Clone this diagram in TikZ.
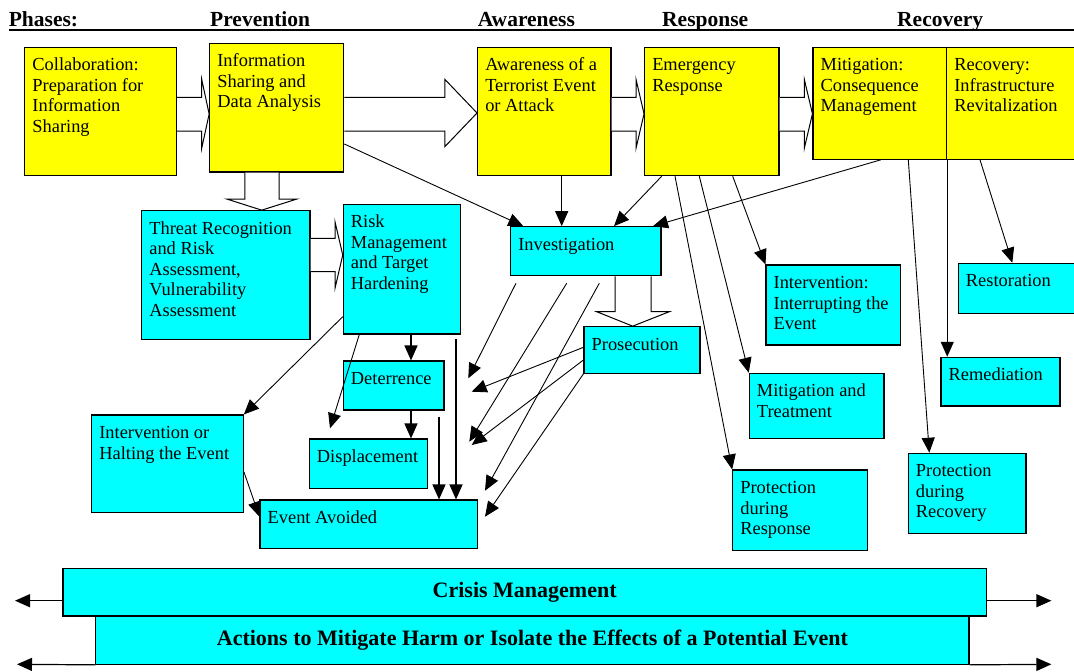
\documentclass[tikz,border=0pt]{standalone}
\usepackage{fontspec}
\setmainfont{Liberation Serif}
\usetikzlibrary{arrows.meta,fit,calc}
\definecolor{ylw}{RGB}{255,255,0}
\definecolor{cyn}{RGB}{0,255,255}
\newcommand\btxt[2]{\node[txt] (#1-t) at ([shift={(8,24)}]#1.north west) {\parbox[t]{220pt}{\raggedright #2}};}
\begin{document}
\begin{tikzpicture}[x=1pt,y=-1pt,
  box/.style={draw=black, line width=1.1pt, inner sep=0pt},
  ybox/.style={box, fill=ylw},
  cbox/.style={box, fill=cyn},
  txt/.style={inner sep=0pt, anchor=base west, font=\fontsize{18.4}{20.6}\selectfont},
  conn/.style={line width=0.9pt, -{Triangle[length=15pt,width=13pt]}},
  vconn/.style={conn, line width=1.3pt},
  hollow/.style={draw=black, fill=white, line width=1pt},
  hdr/.style={inner sep=0pt, anchor=base west, font=\fontsize{21.5}{24}\selectfont\bfseries},
  bartxt/.style={inner sep=0pt, font=\fontsize{22}{24}\selectfont\bfseries},
]
\useasboundingbox (0,0) rectangle (1074,672);

% header
\node[hdr] (h0) at (8.6,26) {Phases:};
\node[hdr] (h1) at (210,26) {Prevention};
\node[hdr] (h2) at (477.6,26) {Awareness};
\node[hdr] (h3) at (662,26) {Response};
\node[hdr] (h4) at (897,26) {Recovery};
\draw[line width=1.4pt] (8.6,29.8) -- (1074,29.8);

% yellow boxes
\node[ybox, fit={(24.8,47.3) (176.5,175.7)}] (collab) {};
\node[ybox, fit={(209.7,43.3) (343.8,172)}] (info) {};
\node[ybox, fit={(477.6,47.3) (611,175.7)}] (aware) {};
\node[ybox, fit={(644.6,47.3) (779,175.7)}] (emerg) {};
\node[ybox, fit={(813,47.3) (946.7,159.3)}] (mitig) {};
\node[ybox, fit={(946.7,47.3) (1080,159.3)}] (recov) {};

\btxt{collab}{Collaboration:\\Preparation for\\Information\\Sharing}
\btxt{info}{Information\\Sharing and\\Data Analysis}
\btxt{aware}{Awareness of a\\Terrorist Event\\or Attack}
\btxt{emerg}{Emergency\\Response}
\btxt{mitig}{Mitigation:\\Consequence\\Management}
\btxt{recov}{Recovery:\\Infrastructure\\Revitalization}

% cyan boxes
\node[cbox, fit={(141.7,210.7) (310,339.3)}] (threat) {};
\node[cbox, fit={(343.3,204.3) (460.7,334)}] (risk) {};
\node[cbox, fit={(510.7,226.7) (661,275.7)}] (invest) {};
\node[cbox, fit={(584,326.7) (700,373.3)}] (prosec) {};
\node[cbox, fit={(766,265) (900.7,345)}] (interv1) {};
\node[cbox, fit={(749.3,373.3) (884,438.3)}] (mitT) {};
\node[cbox, fit={(732.7,470) (867.3,550.7)}] (protResp) {};
\node[cbox, fit={(958.3,263.3) (1078,313.3)}] (restor) {};
\node[cbox, fit={(941,357.3) (1060,406)}] (remed) {};
\node[cbox, fit={(908.3,453.3) (1026,533.3)}] (protRec) {};
\node[cbox, fit={(343.3,361) (444,410)}] (deter) {};
\node[cbox, fit={(309.3,439) (427.3,488.3)}] (displ) {};
\node[cbox, fit={(91.7,415) (243.3,512.7)}] (interv2) {};
\node[cbox, fit={(260,500) (477.3,548.3)}] (event) {};

\btxt{threat}{Threat Recognition\\and Risk\\Assessment,\\Vulnerability\\Assessment}
\btxt{risk}{Risk\\Management\\and Target\\Hardening}
\btxt{invest}{Investigation}
\btxt{prosec}{Prosecution}
\btxt{interv1}{Intervention:\\Interrupting the\\Event}
\btxt{mitT}{Mitigation and\\Treatment}
\btxt{protResp}{Protection\\during\\Response}
\btxt{restor}{Restoration}
\btxt{remed}{Remediation}
\btxt{protRec}{Protection\\during\\Recovery}
\btxt{deter}{Deterrence}
\btxt{displ}{Displacement}
\btxt{interv2}{Intervention or\\Halting the Event}
\btxt{event}{Event Avoided}

% hollow block arrows
\draw[hollow] (collab.east |- 0,97.3) -- (201.7,97.3) -- (201.7,79.3) -- (info.west |- 0,114) -- (201.7,148.3) -- (201.7,131) -- (collab.east |- 0,131);
\draw[hollow] (info.east |- 0,97.3) -- (444.8,97.3) -- (444.8,79.3) -- (aware.west |- 0,113) -- (444.8,146.7) -- (444.8,131) -- (info.east |- 0,131);
\draw[hollow] (aware.east |- 0,97.3) -- (636,97.3) -- (636,79.3) -- (emerg.west |- 0,113.8) -- (636,148.3) -- (636,131) -- (aware.east |- 0,131);
\draw[hollow] (emerg.east |- 0,97.3) -- (804.3,97.3) -- (804.3,79.3) -- (mitig.west |- 0,113.8) -- (804.3,148.3) -- (804.3,131) -- (emerg.east |- 0,131);
\draw[hollow] (244.8,0 |- info.south) -- (244.8,199) -- (226.7,199) -- (261.7,0 |- threat.north) -- (297,199) -- (279,199) -- (279,0 |- info.south);
\draw[hollow] (threat.east |- 0,238.3) -- (335,238.3) -- (335,221.7) -- (risk.west |- 0,255) -- (335,288.3) -- (335,271.7) -- (threat.east |- 0,271.7);
\draw[hollow] (615,0 |- invest.south) -- (615,311.7) -- (596.7,311.7) -- (632.7,0 |- prosec.north) -- (669.3,311.7) -- (651,311.7) -- (651,0 |- invest.south);

% free ends
\coordinate (d1) at (330,428.3);
\coordinate (r1) at (456,339.3);
\coordinate (e1) at (439,416.7);
\coordinate (t1) at (468.3,378.3);
\coordinate (t2) at (469.3,441.7);
\coordinate (t3) at (485,490.7);
\coordinate (t4) at (471.7,391.7);
\coordinate (t5) at (471.7,445);
\coordinate (t6) at (485,516.7);

% connectors
\draw[conn] (info.east |- 0,144) -- (523.3,0 |- invest.north);
\draw[vconn] (561.7,0 |- aware.south) -- (561.7,0 |- invest.north);
\draw[conn] (661.7,0 |- emerg.south) -- (614,0 |- invest.north);
\draw[conn] (880.7,0 |- mitig.south) -- (653,0 |- invest.north);
\draw[conn] (675,0 |- emerg.south) -- (protResp.north west);
\draw[conn] (699.3,0 |- emerg.south) -- (mitT.north west);
\draw[conn] (732.7,0 |- emerg.south) -- (interv1.north west);
\draw[conn] (908.3,0 |- mitig.south) -- (929.3,0 |- protRec.north);
\draw[vconn] (mitig.south east) -- (mitig.south east |- remed.north);
\draw[conn] (980,0 |- recov.south) -- (1012.3,0 |- restor.north);
\draw[vconn] (411,0 |- risk.south) -- (411,0 |- deter.north);
\draw[vconn] (411,0 |- deter.south) -- (411,0 |- displ.north);
\draw[conn] (359.3,0 |- risk.south) -- (d1);
\draw[conn] (risk.west |- 0,316.7) -- (interv2.north east);
\draw[vconn] (r1) -- (456,0 |- event.north);
\draw[vconn] (e1) -- (439,0 |- event.north);
\draw[conn] (interv2.east |- 0,471.7) -- (event.west |- 0,516.7);
\draw[conn] ($(516,0 |- invest.south)+(0,7)$) -- (t1);
\draw[conn] ($(566.7,0 |- invest.south)+(0,7)$) -- (t2);
\draw[conn] ($(599.3,0 |- invest.south)+(0,7)$) -- (t3);
\draw[conn] (prosec.west |- 0,347.3) -- (t4);
\draw[conn] (prosec.west |- 0,360) -- (t5);
\draw[conn] (prosec.south west) -- (t6);

% bottom bars
\node[cbox, fit={(95.9,616) (969,664.3)}] (actions) {};
\node[cbox, fit={(63,568.3) (986.3,616)}] (crisis) {};
\node[bartxt] (crisis-t) at (crisis.center) {Crisis Management};
\node[bartxt] (actions-t) at (actions.center) {Actions to Mitigate Harm or Isolate the Effects of a Potential Event};
\coordinate (cl) at (15,600.7);
\coordinate (cr) at (1051.4,600.7);
\coordinate (al) at (17,664.3);
\coordinate (ar) at (1051.4,664.3);
\draw[conn, line width=1.2pt] (crisis.west |- cl) -- (cl);
\draw[conn, line width=1.2pt] (crisis.east |- cr) -- (cr);
\draw[conn, line width=1.2pt] (actions.south west) -- (al);
\draw[conn, line width=1.2pt] (actions.south east) -- (ar);
\end{tikzpicture}
\end{document}
